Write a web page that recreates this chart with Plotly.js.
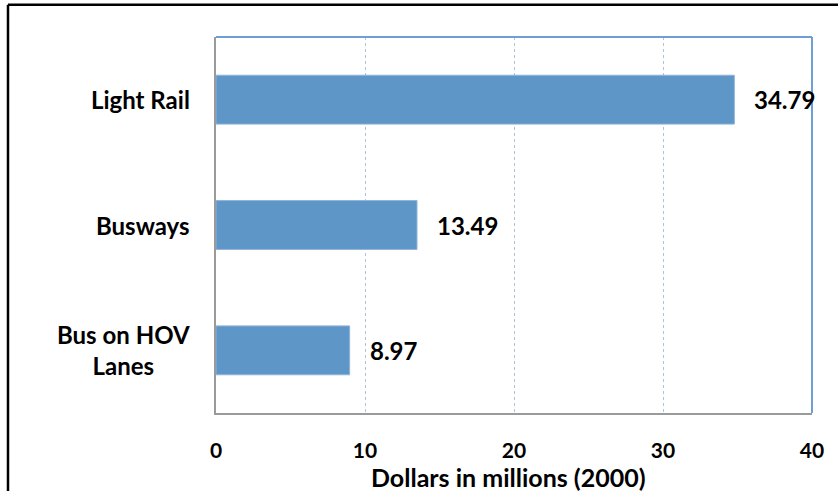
<!DOCTYPE html>
<html>
<head>
<script src="https://cdn.plot.ly/plotly-3.0.1.min.js"></script>
<style>html,body{margin:0;padding:0;background:#fff}#chart{width:838px;height:491px}</style>
</head>
<body>
<div id="chart"></div>
<script>
var categories = ["Bus on HOV<br>Lanes", "Busways", "Light Rail"];
var values = [8.97, 13.49, 34.79];
var valueLabels = ["8.97", "13.49", "34.79"];
var tickValues = [0, 10, 20, 30, 40];
var xTitle = "Dollars in millions (2000)";

var FONT = "Lato, 'Liberation Sans', sans-serif";
var ids = ["c0", "c1", "c2"];

var trace = {
  type: "bar",
  orientation: "h",
  x: values,
  y: ids,
  width: 0.39,
  marker: {color: "#5f96c8", line: {color: "#8fb4da", width: 1}},
  hoverinfo: "none"
};

var annotations = [];
for (var i = 0; i < values.length; i++) {
  annotations.push({
    x: values[i], y: ids[i], xref: "x", yref: "y",
    text: "<b>" + valueLabels[i] + "</b>", showarrow: false,
    xanchor: "left", yanchor: "middle", xshift: 18,
    font: {family: FONT, size: 24, color: "#000"}
  });
  annotations.push({
    x: 0, y: ids[i], xref: "paper", yref: "y",
    text: "<b>" + categories[i] + "</b>", showarrow: false,
    xanchor: "right", yanchor: "middle", xshift: -24, align: "center",
    font: {family: FONT, size: 24, color: "#000"}
  });
}
annotations.push({
  x: 0.49, y: -0.17, xref: "paper", yref: "paper",
  text: "<b>" + xTitle + "</b>", showarrow: false,
  xanchor: "center", yanchor: "middle",
  font: {family: FONT, size: 25, color: "#000"}
});

var layout = {
  width: 838, height: 491,
  margin: {l: 216, r: 26, t: 37, b: 78},
  paper_bgcolor: "#fff", plot_bgcolor: "#fff",
  showlegend: false,
  xaxis: {
    range: [0, 40], tickvals: tickValues, ticktext: tickValues.map(String),
    showgrid: true, gridcolor: "#a9c5e6", gridwidth: 1, griddash: "dot",
    zeroline: false, showline: true, linecolor: "#9a9a9a", linewidth: 2,
    ticks: "outside", ticklen: 18, tickcolor: "rgba(0,0,0,0)",
    tickfont: {family: FONT, size: 21, color: "#000", weight: "bold"}, fixedrange: true
  },
  yaxis: {
    categoryorder: "array", categoryarray: ids, range: [-0.5, 2.5],
    showticklabels: false, showgrid: false, zeroline: false,
    showline: true, linecolor: "#9a9a9a", linewidth: 2, fixedrange: true
  },
  annotations: annotations,
  shapes: [
    {type: "line", xref: "paper", yref: "paper", x0: 0, x1: 1, y0: 1, y1: 1, line: {color: "#6f9fd2", width: 2}},
    {type: "line", xref: "paper", yref: "paper", x0: 1, x1: 1, y0: 0, y1: 1, line: {color: "#6f9fd2", width: 2}},
    {type: "line", xref: "paper", yref: "paper", x0: -0.349, x1: 1.05, y0: 1.086, y1: 1.086, line: {color: "#000", width: 2.5}},
    {type: "line", xref: "paper", yref: "paper", x0: -0.349, x1: -0.349, y0: 1.086, y1: -0.21, line: {color: "#000", width: 2.5}}
  ]
};

Plotly.newPlot("chart", [trace], layout, {displayModeBar: false, staticPlot: true});
</script>
</body>
</html>
